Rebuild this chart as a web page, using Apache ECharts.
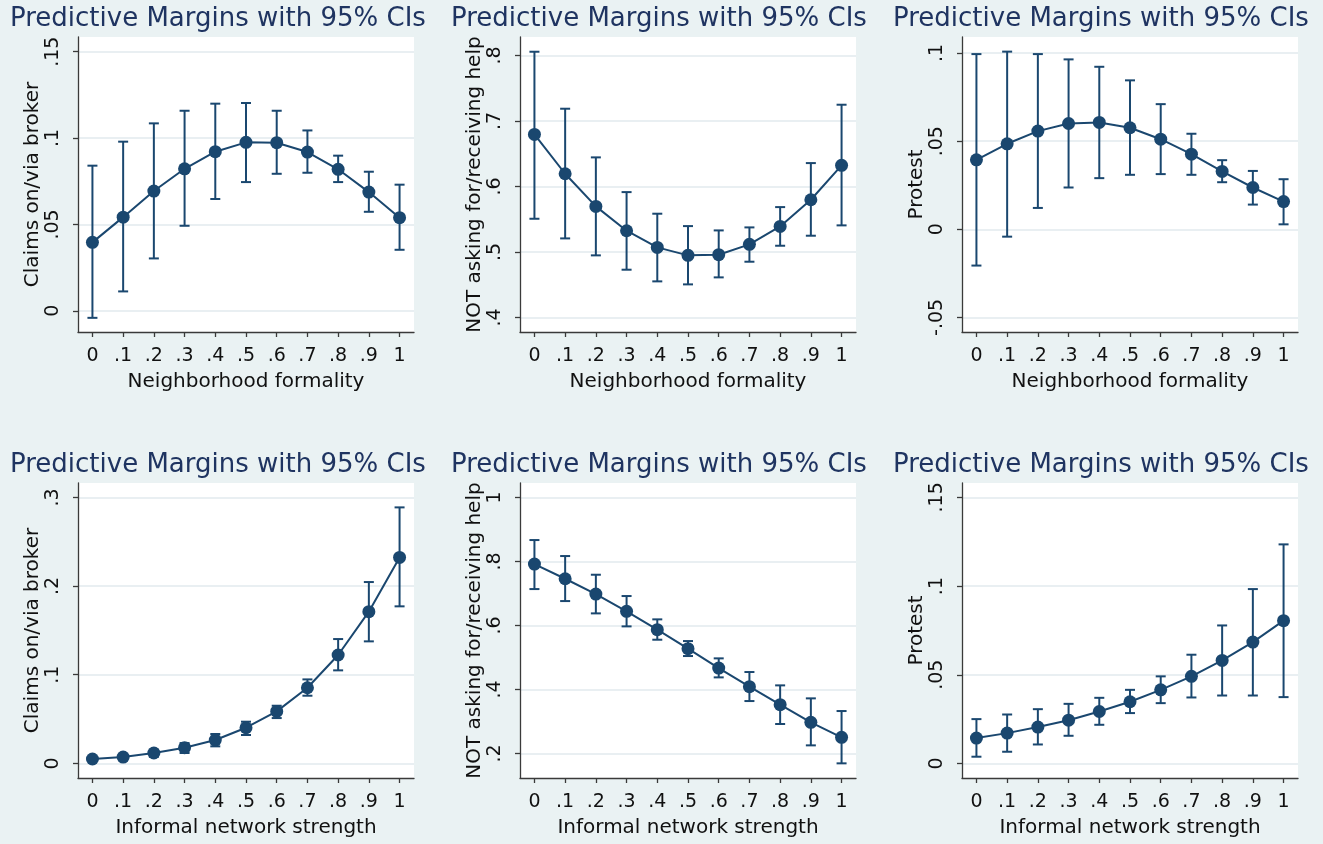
<!DOCTYPE html>
<html>
<head>
<meta charset="utf-8">
<style>
  html, body { margin: 0; padding: 0; background: #eaf2f3; }
  #chart { width: 1323px; height: 844px; }
</style>
<script src="https://cdn.jsdelivr.net/npm/echarts@6/dist/echarts.min.js"></script>
</head>
<body>
<div id="chart"></div>
<script>
// ---------- DATA ----------
const xValues = [0, 0.1, 0.2, 0.3, 0.4, 0.5, 0.6, 0.7, 0.8, 0.9, 1];

const titleText = "Predictive Margins with 95% CIs";
const xNameTop = "Neighborhood formality";
const xNameBottom = "Informal network strength";
const yNameClaims = "Claims on/via broker";
const yNameHelp = "NOT asking for/receiving help";
const yNameProtest = "Protest";

// Panel 1: Claims vs neighborhood formality
const est1 = [0.0396, 0.0542, 0.0693, 0.0822, 0.0921, 0.0975, 0.0973, 0.0919, 0.0819, 0.0687, 0.0539];
const lo1  = [-0.0041, 0.0112, 0.0303, 0.0492, 0.0647, 0.0745, 0.0793, 0.0799, 0.0745, 0.0573, 0.0353];
const hi1  = [0.0840, 0.0979, 0.1085, 0.1158, 0.1199, 0.1203, 0.1158, 0.1044, 0.0898, 0.0805, 0.0730];
const yTicks1 = [0, 0.05, 0.1, 0.15];

// Panel 2: NOT asking vs neighborhood formality
const est2 = [0.6794, 0.6193, 0.5695, 0.5323, 0.5069, 0.4947, 0.4957, 0.5115, 0.5389, 0.5796, 0.6321];
const lo2  = [0.5506, 0.5206, 0.4947, 0.4728, 0.4550, 0.4504, 0.4611, 0.4850, 0.5094, 0.5247, 0.5405];
const hi2  = [0.8056, 0.7186, 0.6443, 0.5913, 0.5583, 0.5394, 0.5328, 0.5374, 0.5684, 0.6356, 0.7247];
const yTicks2 = [0.4, 0.5, 0.6, 0.7, 0.8];

// Panel 3: Protest vs neighborhood formality
const est3 = [0.0394, 0.0485, 0.0557, 0.0600, 0.0606, 0.0576, 0.0511, 0.0426, 0.0328, 0.0237, 0.0157];
const lo3  = [-0.0206, -0.0042, 0.0121, 0.0237, 0.0290, 0.0309, 0.0313, 0.0309, 0.0267, 0.0140, 0.0028];
const hi3  = [0.0994, 0.1008, 0.0994, 0.0964, 0.0922, 0.0845, 0.0710, 0.0542, 0.0392, 0.0331, 0.0284];
const yTicks3 = [-0.05, 0, 0.05, 0.1];

// Panel 4: Claims vs informal network strength
const est4 = [0.0049, 0.0071, 0.0117, 0.0177, 0.0263, 0.0402, 0.0586, 0.0853, 0.1222, 0.1711, 0.2323];
const lo4  = [0.0035, 0.0045, 0.0075, 0.0117, 0.0192, 0.0320, 0.0511, 0.0763, 0.1049, 0.1376, 0.1771];
const hi4  = [0.0065, 0.0098, 0.0154, 0.0229, 0.0331, 0.0470, 0.0650, 0.0947, 0.1402, 0.2045, 0.2887];
const yTicks4 = [0, 0.1, 0.2, 0.3];

// Panel 5: NOT asking vs informal network strength
const est5 = [0.7917, 0.7458, 0.6979, 0.6438, 0.5865, 0.5271, 0.4667, 0.4083, 0.3521, 0.2969, 0.2500];
const lo5  = [0.7135, 0.6760, 0.6375, 0.5969, 0.5552, 0.5042, 0.4375, 0.3635, 0.2917, 0.2250, 0.1688];
const hi5  = [0.8667, 0.8167, 0.7583, 0.6917, 0.6188, 0.5510, 0.4969, 0.4542, 0.4125, 0.3719, 0.3323];
const yTicks5 = [0.2, 0.4, 0.6, 0.8, 1];

// Panel 6: Protest vs informal network strength
const est6 = [0.0143, 0.0171, 0.0205, 0.0244, 0.0293, 0.0348, 0.0415, 0.0491, 0.0581, 0.0684, 0.0805];
const lo6  = [0.0038, 0.0066, 0.0107, 0.0156, 0.0218, 0.0284, 0.0340, 0.0372, 0.0383, 0.0383, 0.0374];
const hi6  = [0.0250, 0.0276, 0.0306, 0.0336, 0.0370, 0.0415, 0.0491, 0.0613, 0.0778, 0.0983, 0.1235];
const yTicks6 = [0, 0.05, 0.1, 0.15];

// ---------- LAYOUT / STYLE ----------
const FONT = "DejaVu Sans";
const NAVY = "#1a476f";
const TITLE_COLOR = "#1f3461";
const AXIS_COLOR = "#3a3a3a";
const GRID_COLOR = "#e2eaee";
const BG = "#eaf2f3";

const xRange = [-0.047, 1.047];

const panels = [
  { est: est1, lo: lo1, hi: hi1, yTicks: yTicks1, yRange: [-0.0123, 0.1585], yName: yNameClaims,  xName: xNameTop,    left: 78,  top: 37,  tx: 10,  ty: 6 },
  { est: est2, lo: lo2, hi: hi2, yTicks: yTicks2, yRange: [0.3777, 0.8281],  yName: yNameHelp,    xName: xNameTop,    left: 520, top: 37,  tx: 451, ty: 6 },
  { est: est3, lo: lo3, hi: hi3, yTicks: yTicks3, yRange: [-0.0583, 0.1091], yName: yNameProtest, xName: xNameTop,    left: 962, top: 37,  tx: 893, ty: 6 },
  { est: est4, lo: lo4, hi: hi4, yTicks: yTicks4, yRange: [-0.0165, 0.3162], yName: yNameClaims,  xName: xNameBottom, left: 78,  top: 483, tx: 10,  ty: 452 },
  { est: est5, lo: lo5, hi: hi5, yTicks: yTicks5, yRange: [0.123, 1.045],    yName: yNameHelp,    xName: xNameBottom, left: 520, top: 483, tx: 451, ty: 452 },
  { est: est6, lo: lo6, hi: hi6, yTicks: yTicks6, yRange: [-0.0082, 0.1581], yName: yNameProtest, xName: xNameBottom, left: 962, top: 483, tx: 893, ty: 452 }
];
const PW = 336, PH = 295;

function stataFmt(v) {
  const r = Math.round(v * 10000) / 10000;
  let s = String(r);
  s = s.replace(/^0\./, ".").replace(/^-0\./, "-.");
  return s;
}

const titles = [], grids = [], xAxes = [], yAxes = [], series = [];

panels.forEach((p, i) => {
  titles.push({
    text: titleText, left: p.tx, top: p.ty, padding: 0,
    textStyle: { fontFamily: FONT, fontSize: 26, fontWeight: "normal", color: TITLE_COLOR }
  });
  grids.push({
    left: p.left, top: p.top, width: PW, height: PH,
    show: true, backgroundColor: "#ffffff", borderWidth: 0,
    containLabel: false, outerBoundsMode: "none"
  });
  xAxes.push({
    type: "value", gridIndex: i, min: xRange[0], max: xRange[1],
    axisLine: { show: true, onZero: false, lineStyle: { color: AXIS_COLOR, width: 1.3 } },
    axisTick: { show: true, length: 5, customValues: xValues, lineStyle: { color: AXIS_COLOR, width: 1.3 } },
    axisLabel: { customValues: xValues, formatter: stataFmt, fontFamily: FONT, fontSize: 19, color: "#111", margin: 15 },
    splitLine: { show: false },
    name: p.xName, nameLocation: "middle", nameGap: 40,
    nameTextStyle: { fontFamily: FONT, fontSize: 20, color: "#111" }
  });
  yAxes.push({
    type: "value", gridIndex: i, min: p.yRange[0], max: p.yRange[1],
    axisLine: { show: true, onZero: false, lineStyle: { color: AXIS_COLOR, width: 1.3 } },
    axisTick: { show: true, length: 5, customValues: p.yTicks, lineStyle: { color: AXIS_COLOR, width: 1.3 } },
    axisLabel: { customValues: p.yTicks, formatter: stataFmt, rotate: 90, fontFamily: FONT, fontSize: 19, color: "#111", margin: 15 },
    splitLine: { show: true, lineStyle: { color: GRID_COLOR, width: 1.5 } },
    name: p.yName, nameLocation: "middle", nameGap: 33, nameRotate: 90,
    nameTextStyle: { fontFamily: FONT, fontSize: 20, color: "#111" }
  });
  series.push({
    type: "custom", xAxisIndex: i, yAxisIndex: i, z: 2,
    data: xValues.map((x, k) => [x, p.lo[k], p.hi[k]]),
    encode: { x: 0, y: [1, 2] },
    renderItem: function (params, api) {
      const x = api.value(0), lo = api.value(1), hi = api.value(2);
      const a = api.coord([x, hi]);
      const b = api.coord([x, lo]);
      const cw = 5;
      const st = { stroke: NAVY, lineWidth: 2 };
      return {
        type: "group",
        children: [
          { type: "line", shape: { x1: a[0], y1: a[1], x2: b[0], y2: b[1] }, style: st },
          { type: "line", shape: { x1: a[0] - cw, y1: a[1], x2: a[0] + cw, y2: a[1] }, style: st },
          { type: "line", shape: { x1: b[0] - cw, y1: b[1], x2: b[0] + cw, y2: b[1] }, style: st }
        ]
      };
    }
  });
  series.push({
    type: "line", xAxisIndex: i, yAxisIndex: i, z: 3,
    data: xValues.map((x, k) => [x, p.est[k]]),
    symbol: "circle", symbolSize: 13, showSymbol: true,
    lineStyle: { color: NAVY, width: 2 },
    itemStyle: { color: NAVY },
    emphasis: { disabled: true }
  });
});

const chart = echarts.init(document.getElementById("chart"), null, { renderer: "canvas" });
chart.setOption({
  animation: false,
  backgroundColor: BG,
  textStyle: { fontFamily: FONT },
  title: titles,
  grid: grids,
  xAxis: xAxes,
  yAxis: yAxes,
  series: series
});
</script>
</body>
</html>
